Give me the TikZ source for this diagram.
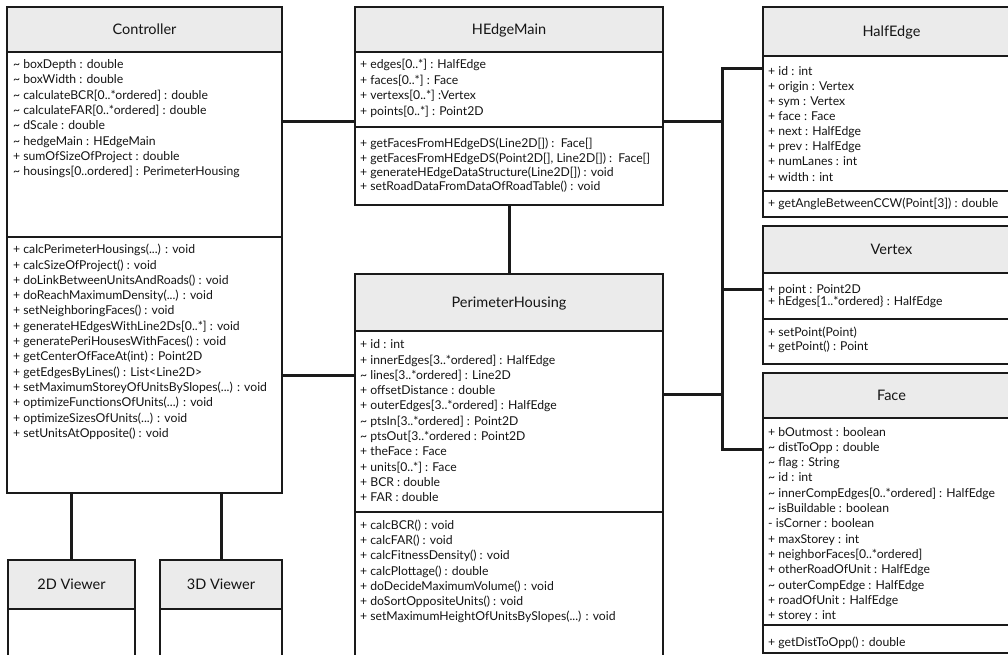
\documentclass[tikz,border=0pt]{standalone}
\usepackage{fontspec}
\setmainfont{Lato}
\usetikzlibrary{fit}
\definecolor{linec}{HTML}{1A1A1A}
\definecolor{textc}{HTML}{141414}
\definecolor{hdrc}{HTML}{EBEBEB}
\newcommand\tld{\textasciitilde}
\newcommand\fl{\rule{0pt}{10pt}}
\tikzset{
  boxline/.style={draw=linec, line width=1.8pt},
  umlbox/.style={draw=linec, line width=1.8pt, inner sep=0pt, outer sep=0pt},
  hdr/.style={fill=hdrc},
  conn/.style={draw=linec, line width=3pt, line join=miter},
  ttl/.style={font=\fontsize{14.5}{16}\selectfont, text=textc, anchor=base, inner sep=0pt},
  txt/.style={font=\fontsize{12.2}{15.3}\selectfont, text=textc, align=left, anchor=north west, inner sep=0pt},
}
\begin{document}
\begin{tikzpicture}[x=1pt,y=-1pt]
\useasboundingbox (0,0) rectangle (1008,655);
\clip (0,0) rectangle (1008,655);
\fill[white] (0,0) rectangle (1008,655);
% header fills
\fill[hdr] (7,7) rectangle (282,52);
\fill[hdr] (355,7) rectangle (663,52);
\fill[hdr] (355,274) rectangle (663,331);
\fill[hdr] (763,7) rectangle (1020,56);
\fill[hdr] (763,226) rectangle (1020,273);
\fill[hdr] (763,373) rectangle (1020,418);
\fill[hdr] (8,560) rectangle (135,609);
\fill[hdr] (160,560) rectangle (282,609);
% boxes
\node[umlbox, fit={(7,7)(282,493)}] (ctrl) {};
\node[umlbox, fit={(355,7)(663,205)}] (hem) {};
\node[umlbox, fit={(355,274)(663,700)}] (ph) {};
\node[umlbox, fit={(763,7)(1020,217)}] (he) {};
\node[umlbox, fit={(763,226)(1020,364)}] (vx) {};
\node[umlbox, fit={(763,373)(1020,653)}] (fc) {};
\node[umlbox, fit={(8,560)(135,700)}] (v2) {};
\node[umlbox, fit={(160,560)(282,700)}] (v3) {};
% dividers
\draw[boxline] (ctrl.west |- 0,52) -- (ctrl.east |- 0,52);
\draw[boxline] (ctrl.west |- 0,237) -- (ctrl.east |- 0,237);
\draw[boxline] (hem.west |- 0,52) -- (hem.east |- 0,52);
\draw[boxline] (hem.west |- 0,127) -- (hem.east |- 0,127);
\draw[boxline] (ph.west |- 0,331) -- (ph.east |- 0,331);
\draw[boxline] (ph.west |- 0,512) -- (ph.east |- 0,512);
\draw[boxline] (he.west |- 0,56) -- (he.east |- 0,56);
\draw[boxline] (he.west |- 0,191) -- (he.east |- 0,191);
\draw[boxline] (vx.west |- 0,273) -- (vx.east |- 0,273);
\draw[boxline] (vx.west |- 0,319) -- (vx.east |- 0,319);
\draw[boxline] (fc.west |- 0,418) -- (fc.east |- 0,418);
\draw[boxline] (fc.west |- 0,625) -- (fc.east |- 0,625);
\draw[boxline] (v2.west |- 0,609) -- (v2.east |- 0,609);
\draw[boxline] (v3.west |- 0,609) -- (v3.east |- 0,609);
% titles
\node[ttl] (ctrlT) at (144.5,34.8) {Controller};
\node[ttl] (hemT) at (509,34.8) {HEdgeMain};
\node[ttl] (phT) at (509,307.8) {PerimeterHousing};
\node[ttl] (heT) at (891.5,36.8) {HalfEdge};
\node[ttl] (vxT) at (891.5,254.8) {Vertex};
\node[ttl] (fcT) at (891.5,400.8) {Face};
\node[ttl] (v2T) at (71.5,589.8) {2D Viewer};
\node[ttl] (v3T) at (221,589.8) {3D Viewer};
% compartments
\node[txt] (ctrlA) at (13,58.5) {\fl\tld{} boxDepth : double\\
\tld{} boxWidth : double\\
\tld{} calculateBCR[0..*ordered] : double\\
\tld{} calculateFAR[0..*ordered] : double\\
\tld{} dScale : double\\
\tld{} hedgeMain : HEdgeMain\\
+ sumOfSizeOfProject : double\\
\tld{} housings[0..ordered] : PerimeterHousing};
\node[txt] (ctrlM) at (13,243.5) {\fl+ calcPerimeterHousings(...) : void\\
+ calcSizeOfProject() : void\\
+ doLinkBetweenUnitsAndRoads() : void\\
+ doReachMaximumDensity(...) : void\\
+ setNeighboringFaces() : void\\
+ generateHEdgesWithLine2Ds[0..*] : void\\
+ generatePeriHousesWithFaces() : void\\
+ getCenterOfFaceAt(int) : Point2D\\
+ getEdgesByLines() : List<Line2D>\\
+ setMaximumStoreyOfUnitsBySlopes(...) : void\\
+ optimizeFunctionsOfUnits(...) : void\\
+ optimizeSizesOfUnits(...) : void\\
+ setUnitsAtOpposite() : void};
\node[txt, font=\fontsize{12.2}{15.6}\selectfont] (hemA) at (360,58.5) {\fl+ edges[0..*] : HalfEdge\\
+ faces[0..*] : Face\\
+ vertexs[0..*] :Vertex\\
+ points[0..*] : Point2D};
\node[txt, font=\fontsize{12.2}{14.4}\selectfont] (hemM) at (360,137.5) {\fl+ getFacesFromHEdgeDS(Line2D[]) :\ \ Face[]\\
+ getFacesFromHEdgeDS(Point2D[], Line2D[]) :\ \ Face[]\\
+ generateHEdgeDataStructure(Line2D[]) : void\\
+ setRoadDataFromDataOfRoadTable() : void};
\node[txt] (phA) at (360,338.5) {\fl+ id : int\\
+ innerEdges[3..*ordered] : HalfEdge\\
\tld{} lines[3..*ordered] : Line2D\\
+ offsetDistance : double\\
+ outerEdges[3..*ordered] : HalfEdge\\
\tld{} ptsIn[3..*ordered] : Point2D\\
\tld{} ptsOut[3..*ordered : Point2D\\
+ theFace : Face\\
+ units[0..*] : Face\\
+ BCR : double\\
+ FAR : double};
\node[txt, font=\fontsize{12.2}{15.1}\selectfont] (phM) at (360,519.5) {\fl+ calcBCR() : void\\
+ calcFAR() : void\\
+ calcFitnessDensity() : void\\
+ calcPlottage() : double\\
+ doDecideMaximumVolume() : void\\
+ doSortOppositeUnits() : void\\
+ setMaximumHeightOfUnitsBySlopes(...) : void};
\node[txt, font=\fontsize{12.2}{15.1}\selectfont] (heA) at (768,65.2) {\fl+ id : int\\
+ origin : Vertex\\
+ sym : Vertex\\
+ face : Face\\
+ next : HalfEdge\\
+ prev : HalfEdge\\
+ numLanes : int\\
+ width : int};
\node[txt] (heM) at (768,196.8) {\fl+ getAngleBetweenCCW(Point[3]) : double};
\node[txt, font=\fontsize{12.2}{12}\selectfont] (vxA) at (768,283.5) {\fl+ point : Point2D\\
+ hEdges[1..*ordered\} : HalfEdge};
\node[txt, font=\fontsize{12.2}{14.4}\selectfont] (vxM) at (768,325.8) {\fl+ setPoint(Point)\\
+ getPoint() : Point};
\node[txt] (fcA) at (768,425.8) {\fl+ bOutmost : boolean\\
\tld{} distToOpp : double\\
\tld{} flag : String\\
\tld{} id : int\\
\tld{} innerCompEdges[0..*ordered] : HalfEdge\\
\tld{} isBuildable : boolean\\
- isCorner : boolean\\
+ maxStorey : int\\
+ neighborFaces[0..*ordered]\\
+ otherRoadOfUnit : HalfEdge\\
\tld{} outerCompEdge : HalfEdge\\
+ roadOfUnit : HalfEdge\\
+ storey : int};
\node[txt] (fcM) at (768,636.2) {\fl+ getDistToOpp() : double};
% connectors
\coordinate (bus) at (722,0);
\draw[conn] (ctrl.east |- 0,122) -- (hem.west |- 0,122);
\draw[conn] (ctrl.east |- 0,375) -- (ph.west |- 0,375);
\draw[conn] (hem.south) -- (ph.north);
\draw[conn] (ctrl.south -| v2.north) -- (v2.north);
\draw[conn] (ctrl.south -| v3.north) -- (v3.north);
\draw[conn] (hem.east |- 0,122) -- (bus |- 0,122);
\draw[conn] (ph.east |- 0,394) -- (bus |- 0,394);
\draw[conn] (he.west |- 0,69) -| (bus |- 0,449) -- (fc.west |- 0,449);
\draw[conn] (bus |- 0,289) -- (vx.west |- 0,289);
\end{tikzpicture}
\end{document}
